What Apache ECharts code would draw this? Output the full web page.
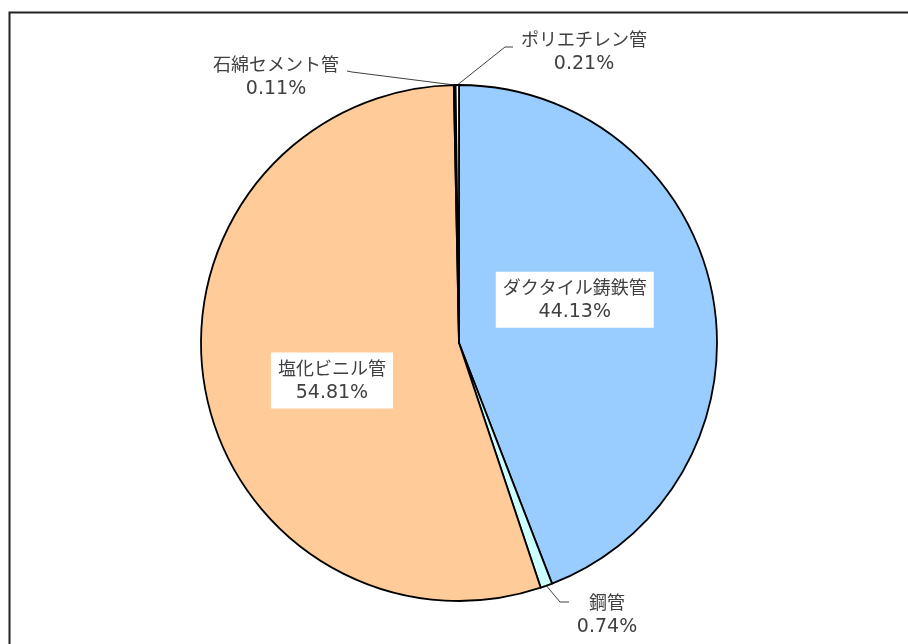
<!DOCTYPE html>
<html>
<head>
<meta charset="utf-8">
<script src="https://cdn.jsdelivr.net/npm/echarts@6/dist/echarts.min.js"></script>
<style>html,body{margin:0;padding:0;background:#fff;}#c{width:908px;height:644px;}</style>
</head>
<body>
<div id="c"></div>
<script>
const categories = ['ダクタイル鋳鉄管', '鋼管', '塩化ビニル管', '石綿セメント管', 'ポリエチレン管'];
const values = [44.13, 0.74, 54.81, 0.11, 0.21];
const colors = ['#99CCFF', '#CCFFFF', '#FFCC99', '#FFFFFF', '#FFFFFF'];

const CX = 459, CY = 343, R = 258;
const rich = {
  n: { color: '#404040', fontFamily: 'Noto Sans CJK JP', fontSize: 18, lineHeight: 25 },
  v: { color: '#404040', fontFamily: 'DejaVu Sans', fontSize: 19, lineHeight: 25 }
};

// label placement, relative to pie center (layout only)
const insideShift = { 0: [-14, -19], 2: [3, 15] };
const outside = {
  1: { at: [148, 272], bend: [101, 259], end: [110, 259] },
  3: { at: [-183, -266], bend: [-107, -271], end: [-112, -272] },
  4: { at: [125, -291], bend: [46, -296], end: [54, -296] }
};

const data = categories.map((name, i) => {
  const isOut = outside[i] != null;
  return {
    name,
    value: values[i],
    itemStyle: { color: colors[i] },
    label: isOut
      ? { show: true, position: 'outside', formatter: '{n|{b}}\n{v|{c}%}', rich }
      : { show: true, position: 'inside', formatter: '{n|{b}}\n{v|{c}%}', rich, backgroundColor: '#ffffff', padding: [3, 7] },
    labelLine: { show: isOut, length: 15, length2: 10, lineStyle: { color: '#404040', width: 1 } }
  };
});

const chart = echarts.init(document.getElementById('c'));
chart.setOption({
  animation: false,
  backgroundColor: '#ffffff',
  graphic: [{
    type: 'rect', shape: { x: 9.5, y: 12.5, width: 1000, height: 1000 },
    style: { fill: 'none', stroke: '#222', lineWidth: 2 }, silent: true
  }],
  series: [{
    type: 'pie',
    center: [CX, CY],
    radius: R,
    startAngle: 90,
    clockwise: true,
    avoidLabelOverlap: false,
    itemStyle: { borderColor: '#000', borderWidth: 1.8 },
    emphasis: { disabled: true },
    data,
    labelLayout: function (p) {
      const i = p.dataIndex;
      if (insideShift[i]) {
        return { dx: insideShift[i][0], dy: insideShift[i][1] };
      }
      const o = outside[i];
      if (!o) return {};
      const p0 = (p.labelLinePoints && p.labelLinePoints[0]) || [CX, CY - R];
      return {
        x: CX + o.at[0], y: CY + o.at[1], align: 'center', verticalAlign: 'middle',
        labelLinePoints: [p0, [CX + o.bend[0], CY + o.bend[1]], [CX + o.end[0], CY + o.end[1]]]
      };
    }
  }]
});
</script>
</body>
</html>
